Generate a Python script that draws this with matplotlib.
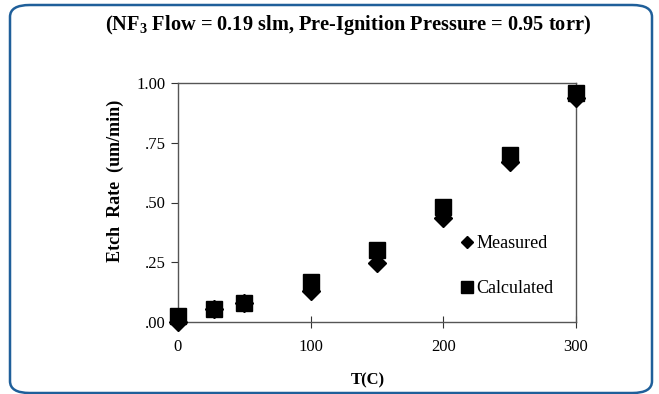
import matplotlib
matplotlib.use("Agg")
import matplotlib.pyplot as plt
from matplotlib.patches import FancyBboxPatch
from matplotlib.ticker import FuncFormatter

temps = [0, 27, 50, 100, 150, 200, 250, 300]
measured = [0.00, 0.055, 0.08, 0.13, 0.245, 0.435, 0.67, 0.937]
calculated = [0.025, 0.055, 0.08, 0.167, 0.30, 0.48, 0.70, 0.96]
xticks = [0, 100, 200, 300]
yticks = [0.0, 0.25, 0.5, 0.75, 1.0]

plt.rcParams['font.family'] = ['Liberation Serif', 'DejaVu Serif']
plt.rcParams['mathtext.fontset'] = 'custom'
plt.rcParams['mathtext.rm'] = 'Liberation Serif'
plt.rcParams['mathtext.bf'] = 'Liberation Serif:bold'

fig = plt.figure(figsize=(6.59, 3.94), dpi=100)
fig.patch.set_facecolor('white')

border = FancyBboxPatch((10/659, 1 - 393/394), (652-10)/659, (393-5)/394,
                        boxstyle="round,pad=0,rounding_size=0.03",
                        transform=fig.transFigure, fill=False,
                        edgecolor='#1f5f9a', linewidth=1.8, clip_on=False)
fig.patches.append(border)

ax = fig.add_axes([178/659, 1 - 322/394, (576-178)/659, (322-83)/394])
ax.plot(temps, calculated, linestyle='none', marker='s', markersize=11,
        color='black', label='Calculated', clip_on=False, zorder=3)
ax.plot(temps, measured, linestyle='none', marker='D', markersize=9,
        color='black', label='Measured', clip_on=False, zorder=4)

ax.set_xlim(0, 300)
ax.set_ylim(0, 1.0)
ax.set_xticks(xticks)
ax.set_yticks(yticks)
ax.yaxis.set_major_formatter(FuncFormatter(lambda v, p: ('%.2f' % v).lstrip('0') if v < 1 else '%.2f' % v))
ax.tick_params(axis='x', direction='inout', length=8, width=0.8, labelsize=12, pad=8, colors='#333333', labelcolor='black')
ax.tick_params(axis='y', direction='out', length=5, width=0.8, labelsize=12, pad=4, colors='#333333', labelcolor='black')
for s in ax.spines.values():
    s.set_color('#555555')
    s.set_linewidth(1.0)

ax.set_xlabel('T(C)', fontsize=12, fontweight='bold', va='center')
ax.xaxis.set_label_coords((368-178)/398, -(380-322)/239)
ax.set_ylabel('Etch  Rate  (um/min)', fontsize=13, fontweight='bold', va='center')
ax.yaxis.set_label_coords(-(178-115)/398, (322-181)/239)

fig.text(348/659, 1 - 25/394, '(NF$_\\mathbf{3}$ Flow = 0.19 slm, Pre-Ignition Pressure = 0.95 torr)',
         ha='center', va='center', fontsize=14.7, fontweight='bold')

h, l = ax.get_legend_handles_labels()
leg = ax.legend([h[1], h[0]], [l[1], l[0]], loc='center left',
                bbox_to_anchor=(0.672, 0.235), frameon=False, fontsize=13,
                handlelength=0.6, handletextpad=0.2,
                labelspacing=1.55)
leg.legend_handles[0].set_markersize(6.5)
leg.legend_handles[1].set_markersize(8)

fig.savefig('out.png', dpi=100, facecolor='white')
